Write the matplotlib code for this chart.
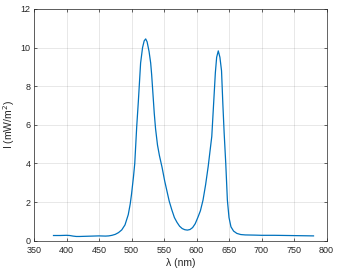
import matplotlib
matplotlib.use("Agg")
import matplotlib.pyplot as plt

wavelength = [380, 390, 400, 405, 410, 415, 420, 430, 440, 450, 460, 465, 470, 475,
              480, 485, 490, 495, 498, 500, 503, 505, 508, 510.5, 514, 517, 519.5,
              521.8, 524, 527, 529.5, 531, 533, 535, 537, 540, 543, 547, 551, 555,
              558, 562, 566, 570, 574, 578, 582, 586, 590, 594, 598, 602, 606, 610,
              614, 618, 621, 623.5, 626, 629, 631, 633.5, 636, 638.5, 640.5, 642.5,
              645, 647.5, 650, 653, 657, 662, 668, 675, 690, 700, 720, 740, 760, 780]
intensity = [0.27, 0.27, 0.28, 0.27, 0.24, 0.22, 0.22, 0.23, 0.24, 0.25, 0.24, 0.25,
             0.28, 0.33, 0.42, 0.56, 0.82, 1.35, 1.9, 2.4, 3.3, 4.0, 5.9, 7.2, 9.2,
             10.0, 10.35, 10.45, 10.3, 9.8, 9.2, 8.6, 7.6, 6.6, 5.8, 4.95, 4.4,
             3.8, 3.1, 2.5, 2.05, 1.6, 1.2, 0.95, 0.75, 0.63, 0.57, 0.55, 0.58, 0.68,
             0.88, 1.2, 1.55, 2.1, 2.9, 3.85, 4.7, 5.4, 6.9, 8.7, 9.5, 9.83, 9.5, 8.8,
             7.1, 5.6, 4.0, 2.1, 1.2, 0.72, 0.5, 0.38, 0.32, 0.3, 0.29, 0.28, 0.28,
             0.27, 0.26, 0.25]

xticks = [350, 400, 450, 500, 550, 600, 650, 700, 750, 800]
yticks = [0, 2, 4, 6, 8, 10, 12]

plt.rcParams['font.family'] = ['Liberation Sans', 'DejaVu Sans']
axc = '#262626'

fig = plt.figure(figsize=(3.38, 2.72), dpi=100)
ax = fig.add_axes([0.1006, 0.115, 0.8654, 0.852])
ax.plot(wavelength, intensity, color='#0072BD', lw=0.9)
ax.set_xlim(350, 800)
ax.set_ylim(0, 12)
ax.set_xticks(xticks)
ax.set_yticks(yticks)
ax.grid(True, color='#262626', alpha=0.15, lw=0.5)
ax.tick_params(direction='in', top=True, right=True, length=2.5, width=0.5,
               labelsize=6.5, colors=axc)
ax.tick_params(axis='x', pad=4)
ax.tick_params(axis='y', pad=2.5)
for s in ax.spines.values():
    s.set_color(axc)
    s.set_linewidth(0.5)
ax.set_xlabel('λ (nm)', fontsize=7.5, color=axc, labelpad=2)
ax.set_ylabel('I (mW/m$^2$)', fontsize=7.5, color=axc, labelpad=2.5)
fig.savefig('out.png', dpi=100)
